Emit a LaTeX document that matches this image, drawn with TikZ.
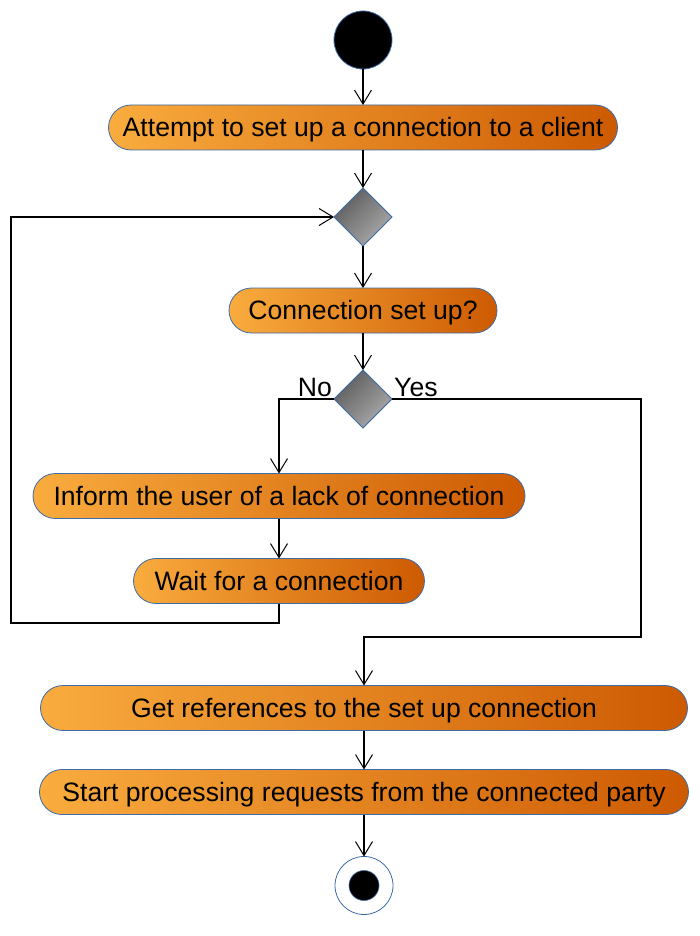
\documentclass[tikz,border=0pt]{standalone}
\usepackage{fontspec}
\setmainfont{Liberation Sans}
\usepackage{tikz}
\usetikzlibrary{shapes.geometric, arrows.meta, positioning}

\definecolor{actlight}{HTML}{F9AC3E}
\definecolor{actdark}{HTML}{CD5A02}
\definecolor{rimblue}{HTML}{3D6BA8}
\definecolor{diadark}{HTML}{5C5C5C}
\definecolor{dialight}{HTML}{ABABAB}

\begin{document}
\begin{tikzpicture}[x=1pt, y=1pt,
    action/.style={draw=rimblue, line width=0.8pt, rectangle, rounded corners=22.5pt, minimum height=45pt, inner sep=0pt, outer sep=0pt, text height=18pt, text depth=0pt, left color=actlight, right color=actdark, font=\fontsize{26.6}{30}\selectfont},
    decision/.style={draw=rimblue, line width=0.8pt, diamond, minimum width=58pt, minimum height=58pt, inner sep=0pt, outer sep=0pt, top color=diadark, bottom color=dialight, shading angle=45},
    initial/.style={draw=rimblue, line width=0.8pt, circle, fill=black, minimum size=58pt, inner sep=0pt, outer sep=0pt},
    final/.style={draw=rimblue, line width=0.8pt, circle, fill=white, minimum size=58pt, inner sep=0pt, outer sep=0pt},
    finaldot/.style={draw=rimblue, line width=0.6pt, circle, fill=black, minimum size=30pt, inner sep=0pt},
    guard/.style={inner sep=2pt, font=\fontsize{26.6}{30}\selectfont},
    flow/.style={-{Straight Barb[length=14pt, width=17pt, line width=1pt]}, line width=1.8pt, black}
]
\useasboundingbox (0,0) rectangle (699,-936);

\node[initial] (start) at (363,-40) {};
\node[action, minimum width=509pt, below=36pt of start] (attempt) {Attempt to set up a connection to a client};
\node[decision, below=38pt of attempt] (merge) {};
\node[action, minimum width=268pt, below=42pt of merge] (setup) {Connection set up?};
\node[decision, below=37pt of setup] (check) {};
\node[guard, anchor=south east] (lblno) at (check.west) {No};
\node[guard, anchor=south west] (lblyes) at (check.east) {Yes};
\node[action, minimum width=492pt] (inform) at (279,-496) {Inform the user of a lack of connection};
\node[action, minimum width=291pt, below=40pt of inform] (wait) {Wait for a connection};
\node[action, minimum width=647pt] (getref) at (364,-708) {Get references to the set up connection};
\node[action, minimum width=649pt, below=39pt of getref] (process) {Start processing requests from the connected party};
\node[final, below=42pt of process] (stop) {};
\node[finaldot] (stopdot) at (stop) {};

\coordinate (loopturn) at (11,-623);
\coordinate (yesturn) at (641,-637);

\draw[flow] (start) -- (attempt);
\draw[flow] (attempt) -- (merge);
\draw[flow] (merge) -- (setup);
\draw[flow] (setup) -- (check);
\draw[flow] (check.west) -| (inform.north);
\draw[flow] (inform) -- (wait);
\draw[flow] (wait.south) |- (loopturn) |- (merge.west);
\draw[flow] (check.east) -| (yesturn) -| (getref.north);
\draw[flow] (getref) -- (process);
\draw[flow] (process) -- (stop);
\end{tikzpicture}
\end{document}
